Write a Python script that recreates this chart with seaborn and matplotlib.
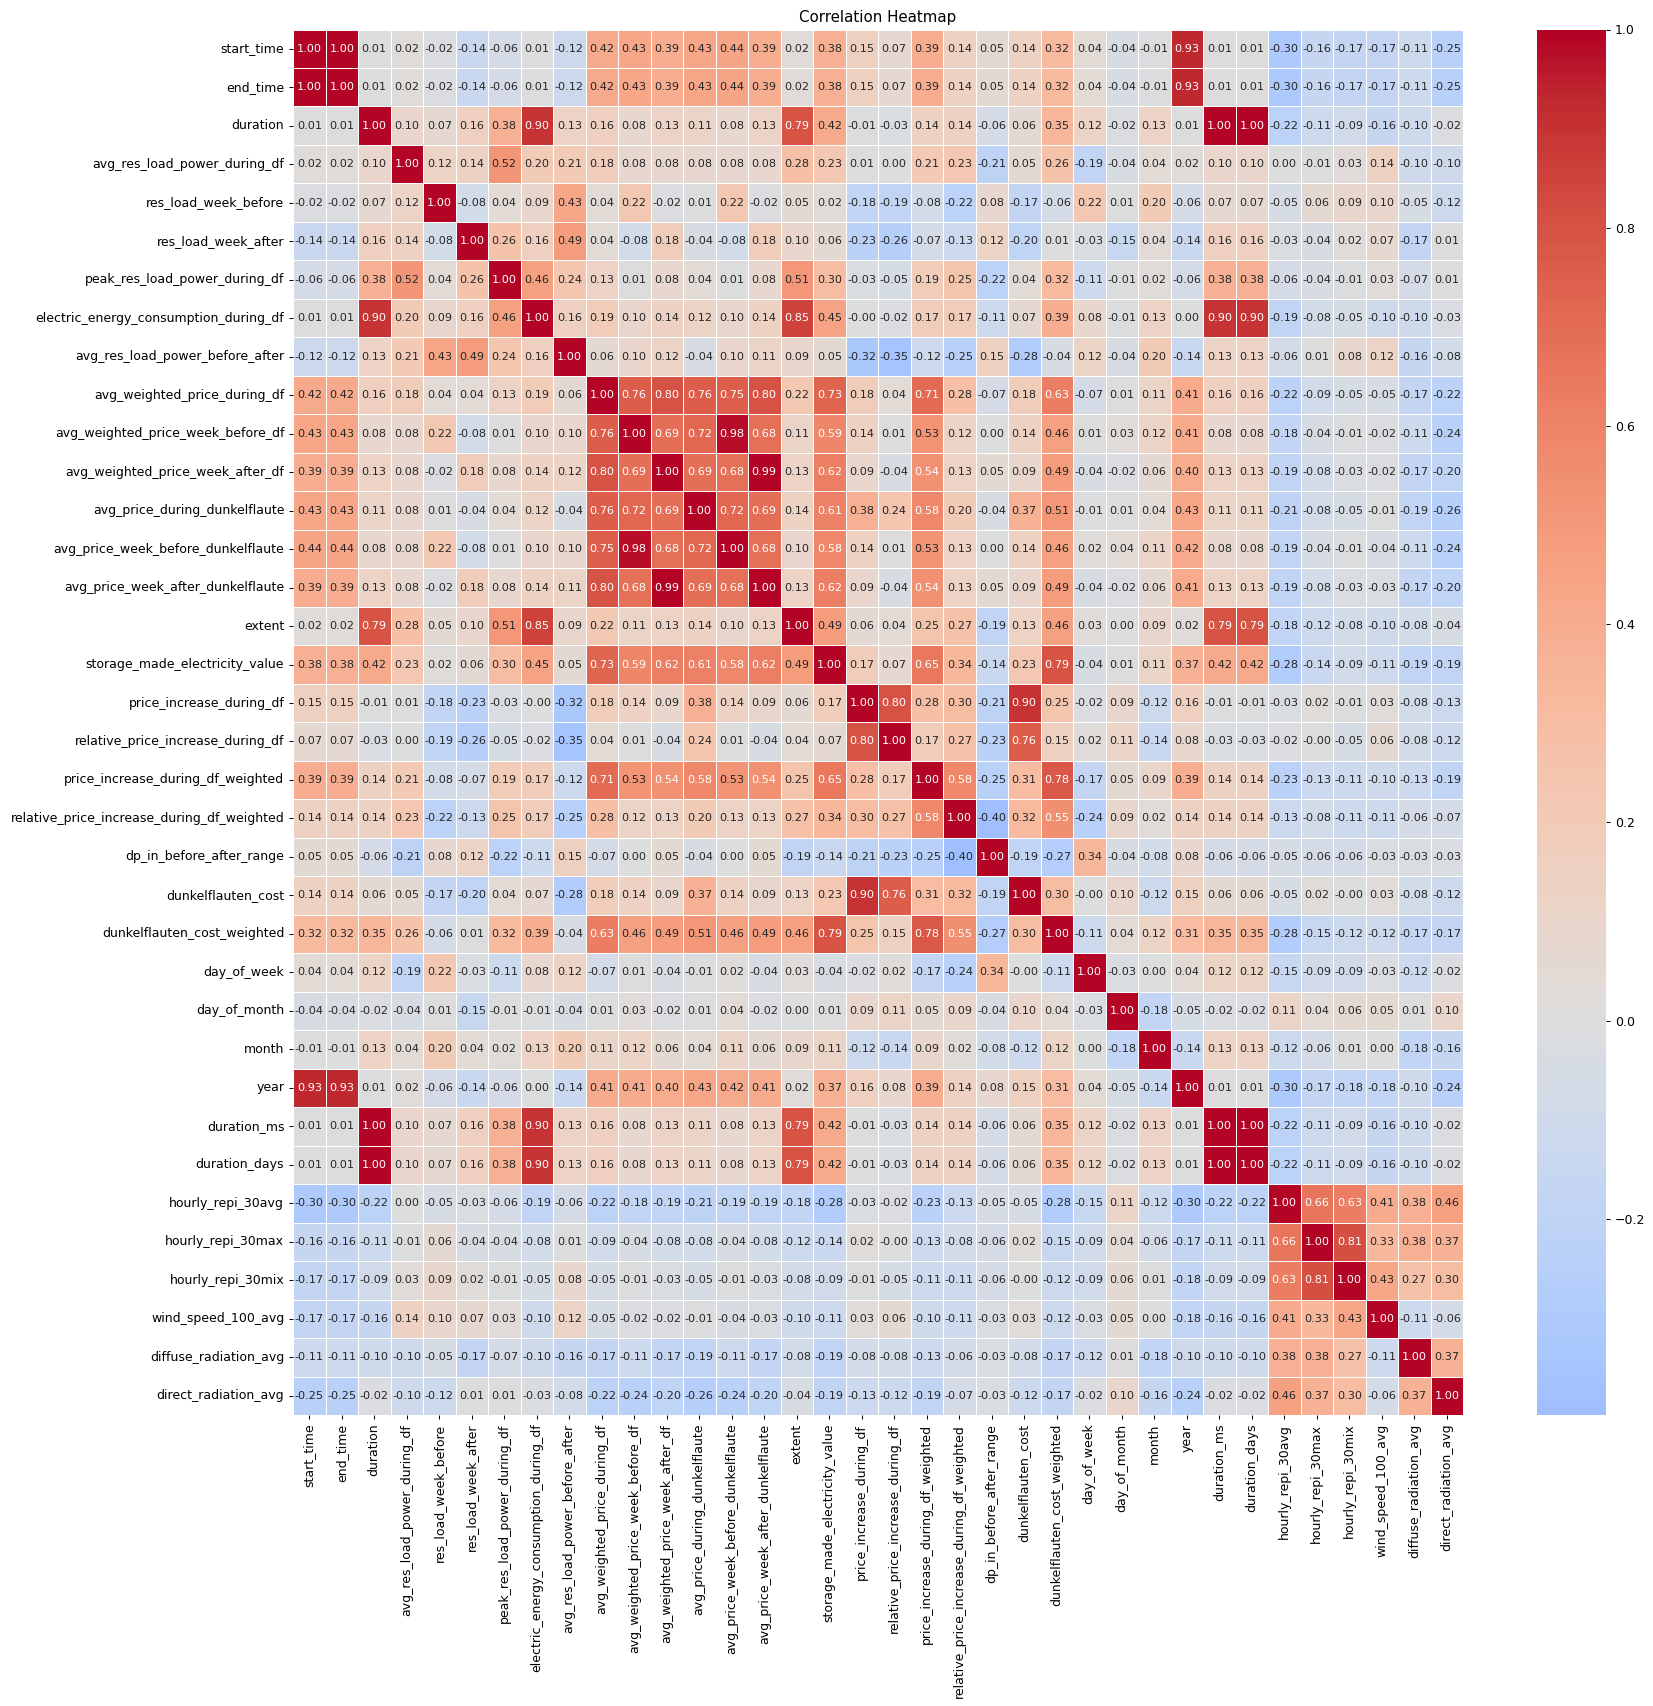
import numpy as np
import pandas as pd
import matplotlib
matplotlib.use("Agg")
import matplotlib.pyplot as plt
import seaborn as sns

labels = ["start_time", "end_time", "duration", "avg_res_load_power_during_df",
          "res_load_week_before", "res_load_week_after", "peak_res_load_power_during_df",
          "electric_energy_consumption_during_df", "avg_res_load_power_before_after",
          "avg_weighted_price_during_df", "avg_weighted_price_week_before_df",
          "avg_weighted_price_week_after_df", "avg_price_during_dunkelflaute",
          "avg_price_week_before_dunkelflaute", "avg_price_week_after_dunkelflaute",
          "extent", "storage_made_electricity_value", "price_increase_during_df",
          "relative_price_increase_during_df", "price_increase_during_df_weighted",
          "relative_price_increase_during_df_weighted", "dp_in_before_after_range",
          "dunkelflauten_cost", "dunkelflauten_cost_weighted", "day_of_week",
          "day_of_month", "month", "year", "duration_ms", "duration_days",
          "hourly_repi_30avg", "hourly_repi_30max", "hourly_repi_30mix",
          "wind_speed_100_avg", "diffuse_radiation_avg", "direct_radiation_avg"]

r_start_time = [1.00, 1.00, 0.01, 0.02, -0.02, -0.14, -0.06, 0.01, -0.12, 0.42, 0.43, 0.39, 0.43, 0.44, 0.39, 0.02, 0.38, 0.15, 0.07, 0.39, 0.14, 0.05, 0.14, 0.32, 0.04, -0.04, -0.01, 0.93, 0.01, 0.01, -0.30, -0.16, -0.17, -0.17, -0.11, -0.25]
r_end_time = [1.00, 1.00, 0.01, 0.02, -0.02, -0.14, -0.06, 0.01, -0.12, 0.42, 0.43, 0.39, 0.43, 0.44, 0.39, 0.02, 0.38, 0.15, 0.07, 0.39, 0.14, 0.05, 0.14, 0.32, 0.04, -0.04, -0.01, 0.93, 0.01, 0.01, -0.30, -0.16, -0.17, -0.17, -0.11, -0.25]
r_duration = [0.01, 0.01, 1.00, 0.10, 0.07, 0.16, 0.38, 0.90, 0.13, 0.16, 0.08, 0.13, 0.11, 0.08, 0.13, 0.79, 0.42, -0.01, -0.03, 0.14, 0.14, -0.06, 0.06, 0.35, 0.12, -0.02, 0.13, 0.01, 1.00, 1.00, -0.22, -0.11, -0.09, -0.16, -0.10, -0.02]
r_avg_res_load = [0.02, 0.02, 0.10, 1.00, 0.12, 0.14, 0.52, 0.20, 0.21, 0.18, 0.08, 0.08, 0.08, 0.08, 0.08, 0.28, 0.23, 0.01, 0.00, 0.21, 0.23, -0.21, 0.05, 0.26, -0.19, -0.04, 0.04, 0.02, 0.10, 0.10, 0.00, -0.01, 0.03, 0.14, -0.10, -0.10]
r_res_before = [-0.02, -0.02, 0.07, 0.12, 1.00, -0.08, 0.04, 0.09, 0.43, 0.04, 0.22, -0.02, 0.01, 0.22, -0.02, 0.05, 0.02, -0.18, -0.19, -0.08, -0.22, 0.08, -0.17, -0.06, 0.22, 0.01, 0.20, -0.06, 0.07, 0.07, -0.05, 0.06, 0.09, 0.10, -0.05, -0.12]
r_res_after = [-0.14, -0.14, 0.16, 0.14, -0.08, 1.00, 0.26, 0.16, 0.49, 0.04, -0.08, 0.18, -0.04, -0.08, 0.18, 0.10, 0.06, -0.23, -0.26, -0.07, -0.13, 0.12, -0.20, 0.01, -0.03, -0.15, 0.04, -0.14, 0.16, 0.16, -0.03, -0.04, 0.02, 0.07, -0.17, 0.01]
r_peak = [-0.06, -0.06, 0.38, 0.52, 0.04, 0.26, 1.00, 0.46, 0.24, 0.13, 0.01, 0.08, 0.04, 0.01, 0.08, 0.51, 0.30, -0.03, -0.05, 0.19, 0.25, -0.22, 0.04, 0.32, -0.11, -0.01, 0.02, -0.06, 0.38, 0.38, -0.06, -0.04, -0.01, 0.03, -0.07, 0.01]
r_energy = [0.01, 0.01, 0.90, 0.20, 0.09, 0.16, 0.46, 1.00, 0.16, 0.19, 0.10, 0.14, 0.12, 0.10, 0.14, 0.85, 0.45, -0.004, -0.02, 0.17, 0.17, -0.11, 0.07, 0.39, 0.08, -0.01, 0.13, 0.00, 0.90, 0.90, -0.19, -0.08, -0.05, -0.10, -0.10, -0.03]
r_before_after = [-0.12, -0.12, 0.13, 0.21, 0.43, 0.49, 0.24, 0.16, 1.00, 0.06, 0.10, 0.12, -0.04, 0.10, 0.11, 0.09, 0.05, -0.32, -0.35, -0.12, -0.25, 0.15, -0.28, -0.04, 0.12, -0.04, 0.20, -0.14, 0.13, 0.13, -0.06, 0.01, 0.08, 0.12, -0.16, -0.08]
r_awp_during = [0.42, 0.42, 0.16, 0.18, 0.04, 0.04, 0.13, 0.19, 0.06, 1.00, 0.76, 0.80, 0.76, 0.75, 0.80, 0.22, 0.73, 0.18, 0.04, 0.71, 0.28, -0.07, 0.18, 0.63, -0.07, 0.01, 0.11, 0.41, 0.16, 0.16, -0.22, -0.09, -0.05, -0.05, -0.17, -0.22]
r_awp_before = [0.43, 0.43, 0.08, 0.08, 0.22, -0.08, 0.01, 0.10, 0.10, 0.76, 1.00, 0.69, 0.72, 0.98, 0.68, 0.11, 0.59, 0.14, 0.01, 0.53, 0.12, 0.00, 0.14, 0.46, 0.01, 0.03, 0.12, 0.41, 0.08, 0.08, -0.18, -0.04, -0.01, -0.02, -0.11, -0.24]
r_awp_after = [0.39, 0.39, 0.13, 0.08, -0.02, 0.18, 0.08, 0.14, 0.12, 0.80, 0.69, 1.00, 0.69, 0.68, 0.99, 0.13, 0.62, 0.09, -0.04, 0.54, 0.13, 0.05, 0.09, 0.49, -0.04, -0.02, 0.06, 0.40, 0.13, 0.13, -0.19, -0.08, -0.03, -0.02, -0.17, -0.20]
r_ap_during = [0.43, 0.43, 0.11, 0.08, 0.01, -0.04, 0.04, 0.12, -0.04, 0.76, 0.72, 0.69, 1.00, 0.72, 0.69, 0.14, 0.61, 0.38, 0.24, 0.58, 0.20, -0.04, 0.37, 0.51, -0.01, 0.01, 0.04, 0.43, 0.11, 0.11, -0.21, -0.08, -0.05, -0.01, -0.19, -0.26]
r_ap_before = [0.44, 0.44, 0.08, 0.08, 0.22, -0.08, 0.01, 0.10, 0.10, 0.75, 0.98, 0.68, 0.72, 1.00, 0.68, 0.10, 0.58, 0.14, 0.01, 0.53, 0.13, 0.00, 0.14, 0.46, 0.02, 0.04, 0.11, 0.42, 0.08, 0.08, -0.19, -0.04, -0.01, -0.04, -0.11, -0.24]
r_ap_after = [0.39, 0.39, 0.13, 0.08, -0.02, 0.18, 0.08, 0.14, 0.11, 0.80, 0.68, 0.99, 0.69, 0.68, 1.00, 0.13, 0.62, 0.09, -0.04, 0.54, 0.13, 0.05, 0.09, 0.49, -0.04, -0.02, 0.06, 0.41, 0.13, 0.13, -0.19, -0.08, -0.03, -0.03, -0.17, -0.20]
r_extent = [0.02, 0.02, 0.79, 0.28, 0.05, 0.10, 0.51, 0.85, 0.09, 0.22, 0.11, 0.13, 0.14, 0.10, 0.13, 1.00, 0.49, 0.06, 0.04, 0.25, 0.27, -0.19, 0.13, 0.46, 0.03, 0.00, 0.09, 0.02, 0.79, 0.79, -0.18, -0.12, -0.08, -0.10, -0.08, -0.04]
r_storage = [0.38, 0.38, 0.42, 0.23, 0.02, 0.06, 0.30, 0.45, 0.05, 0.73, 0.59, 0.62, 0.61, 0.58, 0.62, 0.49, 1.00, 0.17, 0.07, 0.65, 0.34, -0.14, 0.23, 0.79, -0.04, 0.01, 0.11, 0.37, 0.42, 0.42, -0.28, -0.14, -0.09, -0.11, -0.19, -0.19]
r_pi = [0.15, 0.15, -0.01, 0.01, -0.18, -0.23, -0.03, -0.004, -0.32, 0.18, 0.14, 0.09, 0.38, 0.14, 0.09, 0.06, 0.17, 1.00, 0.80, 0.28, 0.30, -0.21, 0.90, 0.25, -0.02, 0.09, -0.12, 0.16, -0.01, -0.01, -0.03, 0.02, -0.01, 0.03, -0.08, -0.13]
r_rpi = [0.07, 0.07, -0.03, 0.00, -0.19, -0.26, -0.05, -0.02, -0.35, 0.04, 0.01, -0.04, 0.24, 0.01, -0.04, 0.04, 0.07, 0.80, 1.00, 0.17, 0.27, -0.23, 0.76, 0.15, 0.02, 0.11, -0.14, 0.08, -0.03, -0.03, -0.02, -0.004, -0.05, 0.06, -0.08, -0.12]
r_piw = [0.39, 0.39, 0.14, 0.21, -0.08, -0.07, 0.19, 0.17, -0.12, 0.71, 0.53, 0.54, 0.58, 0.53, 0.54, 0.25, 0.65, 0.28, 0.17, 1.00, 0.58, -0.25, 0.31, 0.78, -0.17, 0.05, 0.09, 0.39, 0.14, 0.14, -0.23, -0.13, -0.11, -0.10, -0.13, -0.19]
r_rpiw = [0.14, 0.14, 0.14, 0.23, -0.22, -0.13, 0.25, 0.17, -0.25, 0.28, 0.12, 0.13, 0.20, 0.13, 0.13, 0.27, 0.34, 0.30, 0.27, 0.58, 1.00, -0.398, 0.32, 0.55, -0.24, 0.09, 0.02, 0.14, 0.14, 0.14, -0.13, -0.08, -0.11, -0.11, -0.06, -0.07]
r_dp = [0.05, 0.05, -0.06, -0.21, 0.08, 0.12, -0.22, -0.11, 0.15, -0.07, 0.00, 0.05, -0.04, 0.00, 0.05, -0.19, -0.14, -0.21, -0.23, -0.25, -0.398, 1.00, -0.19, -0.27, 0.34, -0.04, -0.08, 0.08, -0.06, -0.06, -0.05, -0.06, -0.06, -0.03, -0.03, -0.03]
r_cost = [0.14, 0.14, 0.06, 0.05, -0.17, -0.20, 0.04, 0.07, -0.28, 0.18, 0.14, 0.09, 0.37, 0.14, 0.09, 0.13, 0.23, 0.90, 0.76, 0.31, 0.32, -0.19, 1.00, 0.30, -0.004, 0.10, -0.12, 0.15, 0.06, 0.06, -0.05, 0.02, -0.004, 0.03, -0.08, -0.12]
r_costw = [0.32, 0.32, 0.35, 0.26, -0.06, 0.01, 0.32, 0.39, -0.04, 0.63, 0.46, 0.49, 0.51, 0.46, 0.49, 0.46, 0.79, 0.25, 0.15, 0.78, 0.55, -0.27, 0.30, 1.00, -0.11, 0.04, 0.12, 0.31, 0.35, 0.35, -0.28, -0.15, -0.12, -0.12, -0.17, -0.17]
r_dow = [0.04, 0.04, 0.12, -0.19, 0.22, -0.03, -0.11, 0.08, 0.12, -0.07, 0.01, -0.04, -0.01, 0.02, -0.04, 0.03, -0.04, -0.02, 0.02, -0.17, -0.24, 0.34, -0.004, -0.11, 1.00, -0.03, 0.00, 0.04, 0.12, 0.12, -0.15, -0.09, -0.09, -0.03, -0.12, -0.02]
r_dom = [-0.04, -0.04, -0.02, -0.04, 0.01, -0.15, -0.01, -0.01, -0.04, 0.01, 0.03, -0.02, 0.01, 0.04, -0.02, 0.00, 0.01, 0.09, 0.11, 0.05, 0.09, -0.04, 0.10, 0.04, -0.03, 1.00, -0.18, -0.05, -0.02, -0.02, 0.11, 0.04, 0.06, 0.05, 0.01, 0.10]
r_month = [-0.01, -0.01, 0.13, 0.04, 0.20, 0.04, 0.02, 0.13, 0.20, 0.11, 0.12, 0.06, 0.04, 0.11, 0.06, 0.09, 0.11, -0.12, -0.14, 0.09, 0.02, -0.08, -0.12, 0.12, 0.00, -0.18, 1.00, -0.14, 0.13, 0.13, -0.12, -0.06, 0.01, 0.00, -0.18, -0.16]
r_year = [0.93, 0.93, 0.01, 0.02, -0.06, -0.14, -0.06, 0.00, -0.14, 0.41, 0.41, 0.40, 0.43, 0.42, 0.41, 0.02, 0.37, 0.16, 0.08, 0.39, 0.14, 0.08, 0.15, 0.31, 0.04, -0.05, -0.14, 1.00, 0.01, 0.01, -0.30, -0.17, -0.18, -0.18, -0.10, -0.24]
r_duration_ms = [0.01, 0.01, 1.00, 0.10, 0.07, 0.16, 0.38, 0.90, 0.13, 0.16, 0.08, 0.13, 0.11, 0.08, 0.13, 0.79, 0.42, -0.01, -0.03, 0.14, 0.14, -0.06, 0.06, 0.35, 0.12, -0.02, 0.13, 0.01, 1.00, 1.00, -0.22, -0.11, -0.09, -0.16, -0.10, -0.02]
r_duration_days = [0.01, 0.01, 1.00, 0.10, 0.07, 0.16, 0.38, 0.90, 0.13, 0.16, 0.08, 0.13, 0.11, 0.08, 0.13, 0.79, 0.42, -0.01, -0.03, 0.14, 0.14, -0.06, 0.06, 0.35, 0.12, -0.02, 0.13, 0.01, 1.00, 1.00, -0.22, -0.11, -0.09, -0.16, -0.10, -0.02]
r_repi_avg = [-0.30, -0.30, -0.22, 0.00, -0.05, -0.03, -0.06, -0.19, -0.06, -0.22, -0.18, -0.19, -0.21, -0.19, -0.19, -0.18, -0.28, -0.03, -0.02, -0.23, -0.13, -0.05, -0.05, -0.28, -0.15, 0.11, -0.12, -0.30, -0.22, -0.22, 1.00, 0.66, 0.63, 0.41, 0.38, 0.46]
r_repi_max = [-0.16, -0.16, -0.11, -0.01, 0.06, -0.04, -0.04, -0.08, 0.01, -0.09, -0.04, -0.08, -0.08, -0.04, -0.08, -0.12, -0.14, 0.02, -0.004, -0.13, -0.08, -0.06, 0.02, -0.15, -0.09, 0.04, -0.06, -0.17, -0.11, -0.11, 0.66, 1.00, 0.81, 0.33, 0.38, 0.37]
r_repi_mix = [-0.17, -0.17, -0.09, 0.03, 0.09, 0.02, -0.01, -0.05, 0.08, -0.05, -0.01, -0.03, -0.05, -0.01, -0.03, -0.08, -0.09, -0.01, -0.05, -0.11, -0.11, -0.06, -0.004, -0.12, -0.09, 0.06, 0.01, -0.18, -0.09, -0.09, 0.63, 0.81, 1.00, 0.43, 0.27, 0.30]
r_wind = [-0.17, -0.17, -0.16, 0.14, 0.10, 0.07, 0.03, -0.10, 0.12, -0.05, -0.02, -0.02, -0.01, -0.04, -0.03, -0.10, -0.11, 0.03, 0.06, -0.10, -0.11, -0.03, 0.03, -0.12, -0.03, 0.05, 0.00, -0.18, -0.16, -0.16, 0.41, 0.33, 0.43, 1.00, -0.11, -0.06]
r_diffuse = [-0.11, -0.11, -0.10, -0.10, -0.05, -0.17, -0.07, -0.10, -0.16, -0.17, -0.11, -0.17, -0.19, -0.11, -0.17, -0.08, -0.19, -0.08, -0.08, -0.13, -0.06, -0.03, -0.08, -0.17, -0.12, 0.01, -0.18, -0.10, -0.10, -0.10, 0.38, 0.38, 0.27, -0.11, 1.00, 0.37]
r_direct = [-0.25, -0.25, -0.02, -0.10, -0.12, 0.01, 0.01, -0.03, -0.08, -0.22, -0.24, -0.20, -0.26, -0.24, -0.20, -0.04, -0.19, -0.13, -0.12, -0.19, -0.07, -0.03, -0.12, -0.17, -0.02, 0.10, -0.16, -0.24, -0.02, -0.02, 0.46, 0.37, 0.30, -0.06, 0.37, 1.00]

rows = [r_start_time, r_end_time, r_duration, r_avg_res_load, r_res_before, r_res_after,
        r_peak, r_energy, r_before_after, r_awp_during, r_awp_before, r_awp_after,
        r_ap_during, r_ap_before, r_ap_after, r_extent, r_storage, r_pi, r_rpi, r_piw,
        r_rpiw, r_dp, r_cost, r_costw, r_dow, r_dom, r_month, r_year, r_duration_ms,
        r_duration_days, r_repi_avg, r_repi_max, r_repi_mix, r_wind, r_diffuse, r_direct]

corr = pd.DataFrame(rows, index=labels, columns=labels)

DPI = 90
W, H = 1653, 1706
fig = plt.figure(figsize=(W / DPI, H / DPI), dpi=DPI)
top, bottom = 29.5, 1415
ax = fig.add_axes([293 / W, 1 - bottom / H, (1463 - 293) / W, (bottom - top) / H])
cax = fig.add_axes([1537 / W, 1 - bottom / H, (1606 - 1537) / W, (bottom - top) / H])

sns.heatmap(corr, ax=ax, cbar_ax=cax, cmap="coolwarm", center=0, annot=True, fmt=".2f",
            linewidths=0.5, annot_kws={"size": 9})
ax.set_title("Correlation Heatmap", fontsize=12)
ax.tick_params(labelsize=10)
cax.tick_params(labelsize=10)
fig.savefig("out.png", dpi=DPI)
